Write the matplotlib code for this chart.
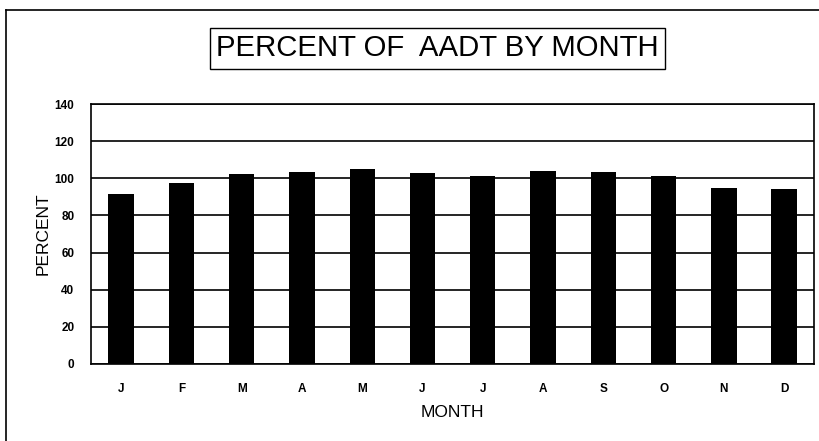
import numpy as np
import matplotlib
matplotlib.use('Agg')
import matplotlib.pyplot as plt
from matplotlib.lines import Line2D

plt.rcParams['font.family'] = ['Liberation Sans', 'DejaVu Sans']

# ── DATA ─────────────────────────────────────────────────────────────
months = ['J', 'F', 'M', 'A', 'M', 'J', 'J', 'A', 'S', 'O', 'N', 'D']
percent = [91.7, 97.7, 102.3, 103.5, 105.0, 102.7, 101.3, 103.8, 103.3, 101.5, 94.6, 94.3]
y_ticks = [0, 20, 40, 60, 80, 100, 120, 140]

fig = plt.figure(figsize=(8.2, 4.41), dpi=100, facecolor='white')
ax = fig.add_axes([0.111, 0.175, 0.882, 0.589])

x = np.arange(len(months))
ax.bar(x, percent, width=0.42, color='black', zorder=3)

ax.set_xlim(-0.5, len(months) - 0.5)
ax.set_ylim(0, 140)
ax.set_yticks(y_ticks)
ax.set_xticks(x)
ax.set_xticklabels(months)
ax.tick_params(axis='both', length=0, labelsize=8.5)
ax.tick_params(axis='y', pad=12)
ax.tick_params(axis='x', pad=14)
for lbl in ax.get_xticklabels() + ax.get_yticklabels():
    lbl.set_fontweight('bold')

ax.yaxis.grid(True, color='black', linewidth=1.2, zorder=1)
ax.set_axisbelow(True)
for s in ax.spines.values():
    s.set_linewidth(1.2)
    s.set_color('black')

ax.set_xlabel('MONTH', fontsize=12.5, labelpad=7)
ax.set_ylabel('PERCENT', fontsize=12.5, labelpad=3)

# title in a box
fig.text(0.5335, 0.891, 'PERCENT OF  AADT BY MONTH', ha='center', va='center',
         fontsize=21.2, fontstretch='condensed',
         bbox=dict(boxstyle='square,pad=0.22', facecolor='white', edgecolor='black', linewidth=1.0))

# outer frame (top and left edges visible)
fig.add_artist(Line2D([6 / 820, 1.0], [1 - 10 / 441, 1 - 10 / 441], color='black', linewidth=1.2))
fig.add_artist(Line2D([6 / 820, 6 / 820], [0.0, 1 - 10 / 441], color='black', linewidth=1.2))

fig.savefig('out.png', dpi=100, facecolor='white')
